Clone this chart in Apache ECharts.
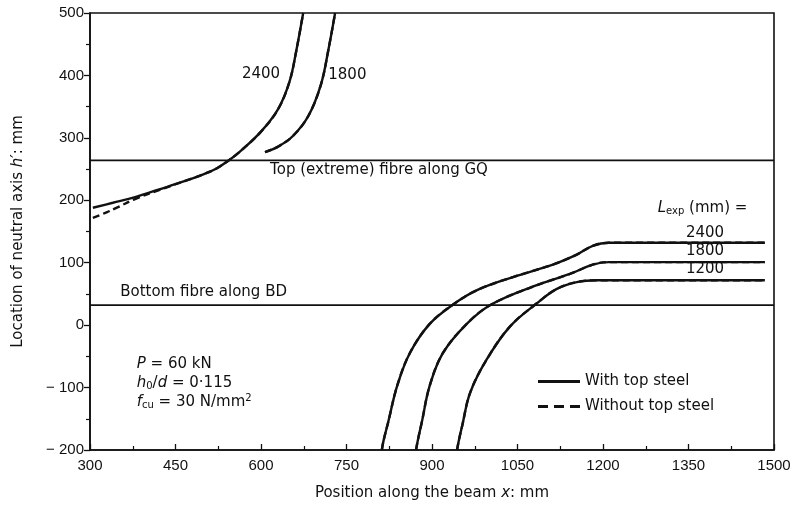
<!DOCTYPE html>
<html><head><meta charset="utf-8">
<script src="https://cdn.jsdelivr.net/npm/echarts@6/dist/echarts.min.js"></script>
<style>html,body{margin:0;padding:0;background:#fff}#c{width:798px;height:506px}</style>
</head><body><div id="c"></div><script>
// Axis ranges
const xRange = [300, 1500, 150];
const yRange = [-200, 500, 100];

// Reference lines (neutral axis at fibre levels)
const topFibre = [[300, 264], [1500, 264]];
const bottomFibre = [[300, 32], [1500, 32]];

// Upper-left branch, Lexp = 2400 (with top steel / without top steel)
const up2400Solid = [[305,188],[340,196],[379,205],[420,217],[467,231],[500,242],[522,251],[542,263],[563,278],[600,310],[630,346],[650,390],[662,440],[674,500]];
const up2400Dash  = [[305,172],[330,181],[349,189],[379,202],[420,216],[467,231],[500,242],[522,251],[542,263],[563,278],[600,310],[630,346],[650,390],[662,440],[674,500]];
// Upper branch, Lexp = 1800
const up1800Solid = [[607,277],[630,286],[656,303],[683,335],[705,385],[718,440],[730,500]];
const up1800Dash  = [[607,277],[630,286],[656,303],[683,335],[705,385],[718,440],[730,500]];

// Lower-right branches (with and without top steel coincide)
const low2400 = [[812,-200],[815,-185],[823,-156],[839,-97],[861,-45],[896,2],[937,33],[979,56],[1042,77],[1112,97],[1154,113],[1182,127],[1210,132],[1484,132]];
const low1800 = [[872,-200],[875,-185],[882,-156],[896,-97],[919,-45],[961,2],[1004,33],[1084,64],[1142,82],[1182,97],[1210,101],[1484,101]];
const low1200 = [[944,-200],[947,-185],[953,-161],[967,-108],[996,-55],[1037,-2],[1084,35],[1119,58],[1154,69],[1190,72],[1484,72]];

const FONT = '"DejaVu Sans", "Liberation Sans", sans-serif';
const TICKFONT = '"Liberation Sans", Arial, sans-serif';
const INK = '#111';

const chart = echarts.init(document.getElementById('c'), null, {renderer: 'canvas'});

function curve(name, data, dashed) {
  return {
    name: name, type: 'line', data: data, symbol: 'none', smooth: 0.38,
    lineStyle: {color: INK, width: 2.4, type: dashed ? [7, 4] : 'solid'},
    itemStyle: {color: INK},
    silent: true, z: 3
  };
}
function hline(data) {
  return {type: 'line', data: data, symbol: 'none', silent: true,
    lineStyle: {color: INK, width: 1.6}, z: 2};
}

const W = 'With top steel', WO = 'Without top steel';
const nameRich = {
  n: {fontSize: 15, color: INK, fontFamily: FONT},
  i: {fontSize: 15, fontStyle: 'italic', color: INK, fontFamily: FONT}
};

chart.setOption({
  animation: false,
  backgroundColor: '#fff',
  textStyle: {fontFamily: FONT, color: INK},
  grid: {left: 90, right: 24, top: 13, bottom: 51, show: true, borderColor: INK, borderWidth: 1.6, backgroundColor: 'transparent'},
  legend: {
    left: 538, top: 374, padding: 0, orient: 'vertical', itemWidth: 42, itemHeight: 3, itemGap: 10,
    data: [
      {name: W, icon: 'rect'},
      {name: WO, icon: 'path://M0,0h10v3h-10z M16,0h10v3h-10z M32,0h10v3h-10z'}
    ],
    itemStyle: {color: INK},
    textStyle: {fontFamily: FONT, fontSize: 15, color: INK}, selectedMode: false
  },
  xAxis: {
    type: 'value', min: xRange[0], max: xRange[1], interval: xRange[2],
    axisLine: {onZero: false, lineStyle: {color: INK, width: 1.6}},
    axisTick: {inside: true, length: 6, lineStyle: {color: INK, width: 1.3}},
    minorTick: {show: true, splitNumber: 2, length: 4, lineStyle: {color: INK, width: 1.2}},
    splitLine: {show: false},
    axisLabel: {fontSize: 15, color: INK, margin: 8, fontFamily: TICKFONT, formatter: v => String(v)},
    name: '{n|Position along the beam }{i|x}{n|: mm}', nameLocation: 'middle', nameGap: 36,
    nameTextStyle: {rich: nameRich}
  },
  yAxis: {
    type: 'value', min: yRange[0], max: yRange[1], interval: yRange[2],
    axisLine: {onZero: false, lineStyle: {color: INK, width: 1.6}},
    axisTick: {inside: false, length: 6, lineStyle: {color: INK, width: 1.3}},
    minorTick: {show: true, splitNumber: 2, length: 4, lineStyle: {color: INK, width: 1.2}},
    splitLine: {show: false},
    axisLabel: {fontSize: 15, color: INK, margin: 6, fontFamily: TICKFONT,
      formatter: v => v < 0 ? '\u2212 ' + Math.abs(v) : String(v)},
    name: '{n|Location of neutral axis }{i|h\u2032}{n|: mm}', nameLocation: 'middle', nameGap: 64,
    nameTextStyle: {rich: nameRich}
  },
  series: [
    hline(topFibre), hline(bottomFibre),
    curve(W, up2400Solid, false), curve(WO, up2400Dash, true),
    curve(W, up1800Solid, false), curve(WO, up1800Dash, true),
    curve(W, low2400, false), curve(WO, low2400, true),
    curve(W, low1800, false), curve(WO, low1800, true),
    curve(W, low1200, false), curve(WO, low1200, true)
  ]
});

// Annotations, anchored in data coordinates
const notes = [
  {at: [600, 402], align: 'center', text: '{n|2400}'},
  {at: [718, 400], align: 'left', text: '{n|1800}'},
  {at: [616, 248], align: 'left', text: '{n|Top (extreme) fibre along GQ}'},
  {at: [353, 53], align: 'left', text: '{n|Bottom fibre along BD}'},
  {at: [1296, 188], align: 'left', text: '{i|L}{sub|exp}{n| (mm) =}'},
  {at: [1379, 148], align: 'center', text: '{n|2400}'},
  {at: [1379, 118], align: 'center', text: '{n|1800}'},
  {at: [1379, 90], align: 'center', text: '{n|1200}'},
  {at: [382, -63], align: 'left', text: '{i|P}{n| = 60 kN}'},
  {at: [382, -93], align: 'left', text: '{i|h}{sub|0}{n|/}{i|d}{n| = 0\u00b7115}'},
  {at: [382, -123], align: 'left', text: '{i|f}{sub|cu}{n| = 30 N/mm}{sup|2}'}
];
const rich = {
  n: {fontSize: 15, fontFamily: FONT, fill: INK, color: INK},
  i: {fontSize: 15, fontFamily: FONT, fontStyle: 'italic', fill: INK, color: INK},
  sub: {fontSize: 10, fontFamily: FONT, fill: INK, color: INK, padding: [7, 0, 0, 0]},
  sup: {fontSize: 10, fontFamily: FONT, fill: INK, color: INK, padding: [0, 0, 7, 0]}
};
const graphics = notes.map(nt => {
  const p = chart.convertToPixel({gridIndex: 0}, nt.at);
  return {type: 'text', x: p[0], y: p[1], silent: true, z: 10,
    style: {text: nt.text, rich: rich, align: nt.align, verticalAlign: 'middle', fill: INK, font: '15px ' + FONT}};
});
chart.setOption({graphic: graphics});
</script></body></html>
